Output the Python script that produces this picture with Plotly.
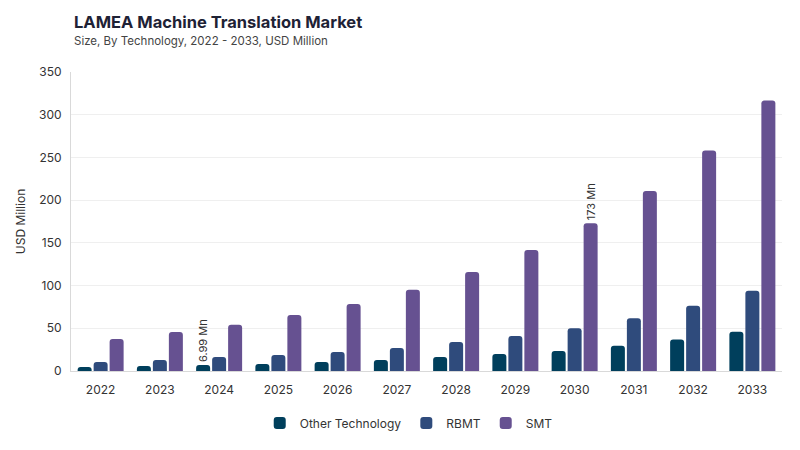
import plotly.graph_objects as go

years = ["2022", "2023", "2024", "2025", "2026", "2027", "2028", "2029", "2030", "2031", "2032", "2033"]
other_tech = [4.7, 5.8, 6.99, 8.2, 10.5, 12.9, 16.4, 19.9, 23.4, 29.6, 37.0, 46.0]
rbmt = [10.5, 12.9, 16.4, 18.7, 22.2, 27.0, 34.0, 41.0, 50.0, 61.7, 76.5, 94.0]
smt = [37.5, 45.7, 54.0, 65.5, 78.5, 95.0, 116.0, 141.7, 173.0, 210.7, 258.0, 316.5]

other_labels = ["", "", "6.99 Mn", "", "", "", "", "", "", "", "", ""]
smt_labels = ["", "", "", "", "", "", "", "", "173 Mn", "", "", ""]

title_text = "LAMEA Machine Translation Market"
subtitle_text = "Size, By Technology, 2022 - 2033, USD Million"

colors = {"Other Technology": "#003f5c", "RBMT": "#2f4b7c", "SMT": "#665191"}
font_family = "Inter, Noto Sans, sans-serif"

fig = go.Figure()
for name, vals, labels in [("Other Technology", other_tech, other_labels),
                           ("RBMT", rbmt, None),
                           ("SMT", smt, smt_labels)]:
    kw = {}
    if labels is not None:
        kw = dict(text=labels, textposition="outside", textangle=-90,
                  textfont=dict(size=11, color="#333333", family=font_family),
                  cliponaxis=False)
    fig.add_trace(go.Bar(x=years, y=vals, name=name, marker_color=colors[name],
                         marker_line_width=0, hoverinfo="x+y", **kw))

fig.add_annotation(text="<b>" + title_text + "</b>", xref="paper", yref="paper",
                   x=(72 - 71) / 711, xanchor="left", y=(371 - 22) / 299, yanchor="middle",
                   showarrow=False, font=dict(size=16.5, color="#1e2235", family=font_family))
fig.add_annotation(text=subtitle_text, xref="paper", yref="paper",
                   x=(72 - 71) / 711, xanchor="left", y=(371 - 41) / 299, yanchor="middle",
                   showarrow=False, font=dict(size=11.5, color="#444444", family=font_family))

fig.update_layout(
    width=800, height=450,
    barmode="group", bargap=0.19, bargroupgap=0.125, barcornerradius=3,
    plot_bgcolor="white", paper_bgcolor="white",
    margin=dict(l=71, r=18, t=72, b=79, autoexpand=False),
    font=dict(family=font_family, color="#333333", size=12),
    xaxis=dict(showline=True, linecolor="#d9d9d9", linewidth=1, ticks="",
               tickfont=dict(size=12, color="#333333"), showgrid=False,
               ticklabelstandoff=8, automargin=False),
    yaxis=dict(range=[0, 350], dtick=50, showgrid=True, gridcolor="#efefef",
               showline=True, linecolor="#d9d9d9", linewidth=1,
               zeroline=False, ticks="", tickfont=dict(size=12, color="#333333"),
               ticklabelstandoff=6, automargin=False,
               title=dict(text="USD Million", font=dict(size=12, color="#333333"), standoff=10)),
    legend=dict(orientation="h", x=0.475, xanchor="center", y=-(423 - 371) / 299, yanchor="middle",
                font=dict(size=12, color="#333333"), itemwidth=30),
    uniformtext=dict(minsize=8, mode="show"),
)

fig.write_html("out.html", config={"displayModeBar": False},
               post_script="document.body.style.margin='0';document.body.style.padding='0';")
